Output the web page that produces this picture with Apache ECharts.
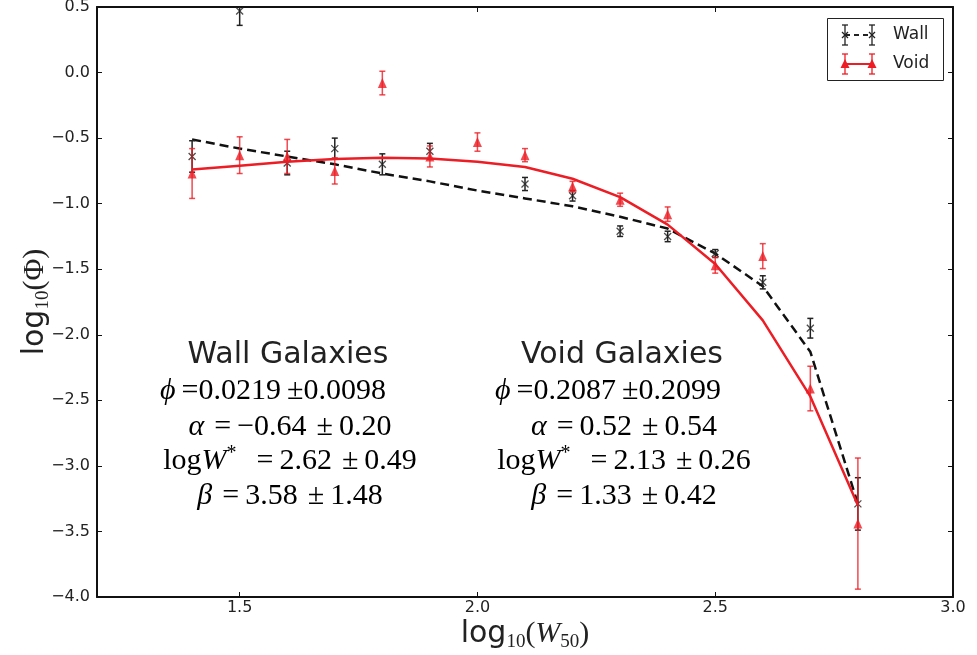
<!DOCTYPE html>
<html>
<head>
<meta charset="utf-8">
<script src="https://cdn.jsdelivr.net/npm/echarts@6/dist/echarts.min.js"></script>
<style>
  html, body { margin: 0; padding: 0; background: #fff; }
  #chart { width: 977px; height: 655px; }
</style>
</head>
<body>
<div id="chart"></div>
<script>
// bins in log10(W50)
const logW = [1.4, 1.5, 1.6, 1.7, 1.8, 1.9, 2.0, 2.1, 2.2, 2.3, 2.4, 2.5, 2.6, 2.7, 2.8]
// wall galaxies (no point at 2.0)
const wallPhi = [-0.64, 0.47, -0.69, -0.58, -0.70, -0.60, null, -0.85, -0.94, -1.21, -1.25, -1.38, -1.60, -1.95, -3.29]
const wallErr = [0.12, 0.11, 0.09, 0.08, 0.08, 0.06, null, 0.05, 0.04, 0.04, 0.04, 0.03, 0.05, 0.075, 0.20]
const wallFit = [-0.51, -0.58, -0.64, -0.70, -0.77, -0.83, -0.90, -0.96, -1.02, -1.10, -1.19, -1.38, -1.63, -2.13, -3.29]
// void galaxies
const voidPhi = [-0.77, -0.63, -0.64, -0.75, -0.08, -0.64, -0.53, -0.63, -0.87, -0.97, -1.08, -1.47, -1.40, -2.41, -3.44]
const voidErr = [0.19, 0.14, 0.13, 0.10, 0.09, 0.08, 0.07, 0.05, 0.04, 0.05, 0.055, 0.06, 0.095, 0.17, 0.50]
const voidFit = [-0.74, -0.71, -0.68, -0.66, -0.65, -0.655, -0.68, -0.72, -0.81, -0.95, -1.16, -1.46, -1.89, -2.47, -3.30]
// ticks
const xTicks = [1.5, 2.0, 2.5, 3.0]
const yMin = -4.0
const yMax = 0.5
// fit parameters text
const wallParams = ['0.0219', '0.0098', '\u22120.64', '0.20', '2.62', '0.49', '3.58', '1.48']
const voidParams = ['0.2087', '0.2099', '0.52', '0.54', '2.13', '0.26', '1.33', '0.42']

const RED = '#ec1d24'
const SANS = 'DejaVu Sans'
const SERIF = 'Liberation Serif'

function pairs(ys) {
  return logW.map((x, i) => ys[i] == null ? null : [x, ys[i]]).filter(d => d)
}
function errData(ys, es) {
  return logW.map((x, i) => ys[i] == null ? null : [x, ys[i], es[i]]).filter(d => d)
}
function errBar(color) {
  return function(params, api) {
    const x = api.value(0)
    const v = api.value(1)
    const e = api.value(2)
    const top = api.coord([x, v + e])
    const bot = api.coord([x, v - e])
    const st = { stroke: color, lineWidth: 1.5 }
    return {
      type: 'group',
      children: [
        { type: 'line', shape: { x1: top[0], y1: top[1], x2: bot[0], y2: bot[1] }, style: st },
        { type: 'line', shape: { x1: top[0] - 3, y1: top[1], x2: top[0] + 3, y2: top[1] }, style: st },
        { type: 'line', shape: { x1: bot[0] - 3, y1: bot[1], x2: bot[0] + 3, y2: bot[1] }, style: st }
      ]
    }
  }
}

const mathRich = {
  i: { fontFamily: SERIF, fontStyle: 'italic', fontSize: 30, color: '#111' },
  n: { fontFamily: SERIF, fontSize: 30, color: '#111' },
  s: { fontFamily: SERIF, fontSize: 20, color: '#111', padding: [0, 0, 14, 0] }
}
const SP = '\u2004'
const TH = '\u2009'
function paramBlock(title, p, cx, phiCx) {
  const lines = [
    '{i|\u03d5}{n|' + TH + '=' + p[0] + TH + '\u00b1' + p[1] + '}',
    '{i|\u03b1}{n|' + SP + '=' + TH + p[2] + SP + '\u00b1' + TH + p[3] + '}',
    '{n|log}{i|W}{s|*}{n|' + SP + SP + '=' + TH + p[4] + SP + '\u00b1' + TH + p[5] + '}',
    '{i|\u03b2}{n|' + SP + '=' + TH + p[6] + SP + '\u00b1' + TH + p[7] + '}'
  ]
  const ys = [391, 427, 461, 496]
  const out = [{
    type: 'text', x: cx - 2, y: 355,
    style: { text: title, font: '30px "' + SANS + '"', fill: '#222', align: 'center', verticalAlign: 'middle' }
  }]
  lines.forEach((t, k) => {
    out.push({
      type: 'text', x: k === 0 ? phiCx : cx, y: ys[k],
      style: { text: t, rich: mathRich, align: 'center', verticalAlign: 'middle' }
    })
  })
  return out
}

function legendRow(y, color, dashed, symbol) {
  const x1 = 845
  const x2 = 872
  const z = 110
  const items = [
    { type: 'line', z: z, shape: { x1: x1, y1: y, x2: x2, y2: y }, style: Object.assign({ stroke: color, lineWidth: 2 }, dashed ? { lineDash: [5, 4] } : {}) }
  ]
  ;[x1, x2].forEach(x => {
    const es = { stroke: color, lineWidth: 1.3 }
    items.push({ type: 'line', z: z, shape: { x1: x, y1: y - 10, x2: x, y2: y + 10 }, style: es })
    items.push({ type: 'line', z: z, shape: { x1: x - 3, y1: y - 10, x2: x + 3, y2: y - 10 }, style: es })
    items.push({ type: 'line', z: z, shape: { x1: x - 3, y1: y + 10, x2: x + 3, y2: y + 10 }, style: es })
    if (symbol === 'x') {
      items.push({ type: 'line', z: z, shape: { x1: x - 3, y1: y - 3, x2: x + 3, y2: y + 3 }, style: { stroke: color, lineWidth: 1.2 } })
      items.push({ type: 'line', z: z, shape: { x1: x - 3, y1: y + 3, x2: x + 3, y2: y - 3 }, style: { stroke: color, lineWidth: 1.2 } })
    } else {
      items.push({ type: 'polygon', z: z, shape: { points: [[x, y - 5], [x + 4.5, y + 4], [x - 4.5, y + 4]] }, style: { fill: color } })
    }
  })
  return items
}

const chart = echarts.init(document.getElementById('chart'), null, { renderer: 'canvas' })

const axisLineStyle = { color: '#111', width: 2 }
const tickStyle = { color: '#111', width: 1 }

chart.setOption({
  backgroundColor: '#fff',
  animation: false,
  grid: { left: 97, right: 24, top: 7, bottom: 58, containLabel: false, outerBoundsMode: 'none' },
  xAxis: [{
    type: 'value', min: 1.2, max: 3.0,
    axisLine: { show: true, onZero: false, lineStyle: axisLineStyle },
    axisTick: { show: true, inside: true, length: 5, customValues: xTicks, lineStyle: tickStyle },
    axisLabel: {
      customValues: xTicks, margin: 3, fontFamily: SANS, fontSize: 16, color: '#222',
      formatter: v => v.toFixed(1)
    },
    splitLine: { show: false },
    name: '{a|log}{s|10}{b|(}{c|W}{s|50}{b|)}',
    nameLocation: 'middle', nameGap: 20, nameMoveOverlap: false,
    nameTextStyle: {
      rich: {
        a: { fontFamily: SANS, fontSize: 30, color: '#222' },
        b: { fontFamily: SERIF, fontSize: 30, color: '#222' },
        c: { fontFamily: SERIF, fontStyle: 'italic', fontSize: 30, color: '#222' },
        s: { fontFamily: SERIF, fontSize: 19, color: '#222', padding: [16, 0, 0, 0] }
      }
    }
  }, {
    type: 'value', min: 1.2, max: 3.0, position: 'top',
    axisLine: { show: true, onZero: false, lineStyle: axisLineStyle },
    axisTick: { show: true, inside: true, length: 5, customValues: xTicks, lineStyle: tickStyle },
    axisLabel: { show: false },
    splitLine: { show: false }
  }],
  yAxis: [{
    type: 'value', min: yMin, max: yMax, interval: 0.5,
    axisLine: { show: true, onZero: false, lineStyle: axisLineStyle },
    axisTick: { show: true, inside: true, length: 5, lineStyle: tickStyle },
    axisLabel: {
      margin: 7, fontFamily: SANS, fontSize: 16, color: '#222',
      formatter: v => v.toFixed(1).replace('-', '\u2212')
    },
    splitLine: { show: false },
    name: '{a|log}{s|10}{b|(\u03a6)}',
    nameLocation: 'middle', nameGap: 44, nameRotate: 90, nameMoveOverlap: false,
    nameTextStyle: {
      rich: {
        a: { fontFamily: SANS, fontSize: 30, color: '#222' },
        b: { fontFamily: SERIF, fontSize: 30, color: '#222' },
        s: { fontFamily: SERIF, fontSize: 19, color: '#222', padding: [16, 0, 0, 0] }
      }
    }
  }, {
    type: 'value', min: yMin, max: yMax, interval: 0.5, position: 'right',
    axisLine: { show: true, onZero: false, lineStyle: axisLineStyle },
    axisTick: { show: true, inside: true, length: 5, lineStyle: tickStyle },
    axisLabel: { show: false },
    splitLine: { show: false }
  }],
  series: [
    {
      name: 'Wall fit', type: 'line', data: pairs(wallFit), showSymbol: false, z: 3,
      lineStyle: { color: '#111', width: 2.5, type: [9, 5] }
    },
    {
      name: 'Wall err', type: 'custom', data: errData(wallPhi, wallErr), renderItem: errBar('#222'),
      clip: true, z: 4
    },
    {
      name: 'Wall', type: 'scatter', data: pairs(wallPhi), z: 5,
      symbol: 'path://M0,0L10,10M10,0L0,10', symbolSize: 7,
      itemStyle: { color: 'rgba(0,0,0,0)', borderColor: '#222', borderWidth: 1.3 }
    },
    {
      name: 'Void fit', type: 'line', data: pairs(voidFit), showSymbol: false, z: 6,
      lineStyle: { color: RED, width: 2.5 }
    },
    {
      name: 'Void err', type: 'custom', data: errData(voidPhi, voidErr), renderItem: errBar('rgba(236,29,36,0.8)'),
      clip: true, z: 7
    },
    {
      name: 'Void', type: 'scatter', data: pairs(voidPhi), z: 8,
      symbol: 'triangle', symbolSize: [9, 10],
      itemStyle: { color: RED }
    }
  ],
  graphic: [
    ...paramBlock('Wall Galaxies', wallParams, 290, 273),
    ...paramBlock('Void Galaxies', voidParams, 624, 608),
    { type: 'rect', z: 100, shape: { x: 827.5, y: 18.5, width: 116, height: 62 }, style: { fill: '#fff', stroke: '#222', lineWidth: 1 } },
    ...legendRow(35, '#222', true, 'x'),
    ...legendRow(64, RED, false, 'tri'),
    { type: 'text', x: 893, y: 35, z: 110, style: { text: 'Wall', font: '17px "' + SANS + '"', fill: '#222', verticalAlign: 'middle' } },
    { type: 'text', x: 893, y: 64, z: 110, style: { text: 'Void', font: '17px "' + SANS + '"', fill: '#222', verticalAlign: 'middle' } }
  ]
})
</script>
</body>
</html>
